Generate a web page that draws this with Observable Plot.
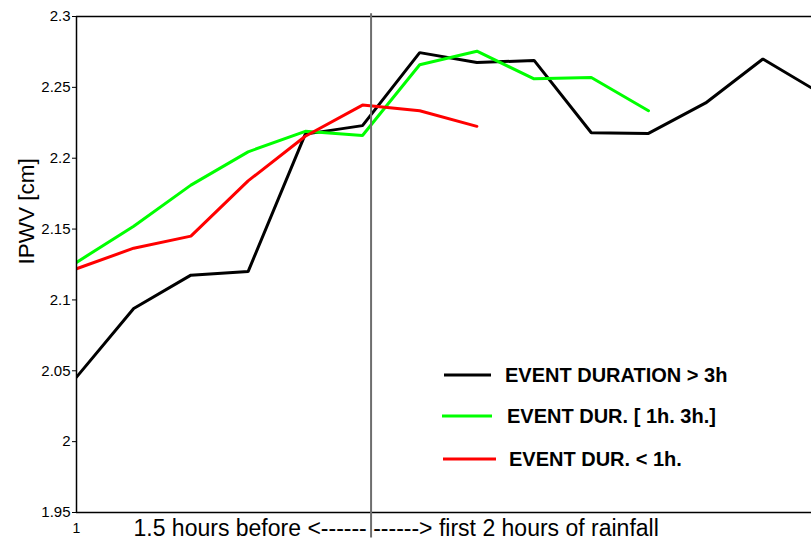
<!DOCTYPE html>
<html>
<head>
<meta charset="utf-8">
<script src="https://cdn.jsdelivr.net/npm/d3@7"></script>
<script src="https://cdn.jsdelivr.net/npm/@observablehq/plot@0.6"></script>
<style>
  html, body { margin: 0; padding: 0; background: #fff; }
  #chart { position: relative; width: 811px; height: 541px; }
</style>
</head>
<body>
<div id="chart"></div>
<script>
// ---- data ----
const steps = [1, 2, 3, 4, 5, 6, 7, 8, 9, 10, 11, 12, 13, 14];
const longEvents = [2.0455, 2.094, 2.1175, 2.120, 2.217, 2.223, 2.2745, 2.2675, 2.269, 2.218, 2.2175, 2.239, 2.270, 2.246];
const midEvents = [2.1265, 2.152, 2.181, 2.2045, 2.219, 2.216, 2.266, 2.2755, 2.256, 2.257, 2.2335];
const shortEvents = [2.122, 2.1365, 2.145, 2.184, 2.2155, 2.2375, 2.2335, 2.2225];
const seriesNames = ["EVENT DURATION > 3h", "EVENT DUR. [ 1h. 3h.]", "EVENT DUR. < 1h."];
const seriesColors = ["#000000", "#00ff00", "#ff0000"];
const yTicks = [1.95, 2, 2.05, 2.1, 2.15, 2.2, 2.25, 2.3];
const xTicks = [1];
const rainStart = 6.15;
const yLabel = "IPWV [cm]";
const xLabel = "1.5 hours before <------ ------> first 2 hours of rainfall";

const series = [longEvents, midEvents, shortEvents];
const rows = series.flatMap((vals, i) =>
  vals.map((v, j) => ({x: steps[j], y: v, s: seriesNames[i]})));

const font = "'Liberation Sans', Arial, Helvetica, sans-serif";

const plot = Plot.plot({
  width: 811,
  height: 541,
  marginLeft: 76,
  marginRight: 0,
  marginTop: 16,
  marginBottom: 29,
  style: {fontFamily: font, fontSize: "15px", color: "#000", background: "#fff", overflow: "visible"},
  x: {domain: [1, 13.85]},
  y: {domain: [1.95, 2.3]},
  color: {domain: seriesNames, range: seriesColors},
  marks: [
    Plot.axisY({ticks: yTicks, tickFormat: d => String(+d.toFixed(2)), tickSize: 4, tickPadding: 2, label: null, fontSize: 15}),
    Plot.axisX({ticks: xTicks, tickFormat: d => String(d), tickSize: 0, tickPadding: 11, label: null, fontSize: 14}),
    Plot.line(rows, {x: "x", y: "y", z: "s", stroke: "s", strokeWidth: 3, clip: true, strokeLinejoin: "miter"}),
    Plot.ruleY([2.3], {stroke: "#000", strokeWidth: 1.5}),
    Plot.ruleY([1.95], {stroke: "#000", strokeWidth: 1.5}),
    Plot.ruleX([1], {stroke: "#000", strokeWidth: 1.5}),
    Plot.ruleX([rainStart], {y1: 2.302, y2: 1.932, stroke: "#6e6e6e", strokeWidth: 2}),
    Plot.text([yLabel], {frameAnchor: "left", dx: -50, rotate: -90, text: d => d, fontSize: 22.5, fill: "#000"}),
    Plot.text([xLabel], {frameAnchor: "bottom-left", dx: 57, dy: 16, text: d => d, fontSize: 23, textAnchor: "start", lineAnchor: "middle", fill: "#000"})
  ]
});

document.getElementById("chart").appendChild(plot);

// legend drawn inside the plot area
const svg = d3.select(plot);
const leg = svg.append("g")
  .attr("font-family", font)
  .attr("font-weight", "bold")
  .attr("font-size", 20)
  .attr("text-anchor", "start");
const legendPos = [
  {x1: 444, x2: 491, y: 375, tx: 505},
  {x1: 442, x2: 492, y: 416, tx: 507},
  {x1: 443, x2: 496, y: 459, tx: 509}
];
seriesNames.forEach((name, i) => {
  const p = legendPos[i];
  leg.append("line").attr("x1", p.x1).attr("x2", p.x2).attr("y1", p.y).attr("y2", p.y)
    .attr("stroke", seriesColors[i]).attr("stroke-width", 3);
  leg.append("text").attr("x", p.tx).attr("y", p.y).attr("dy", "0.36em")
    .attr("text-anchor", "start").attr("fill", "#000").text(name);
});
</script>
</body>
</html>
